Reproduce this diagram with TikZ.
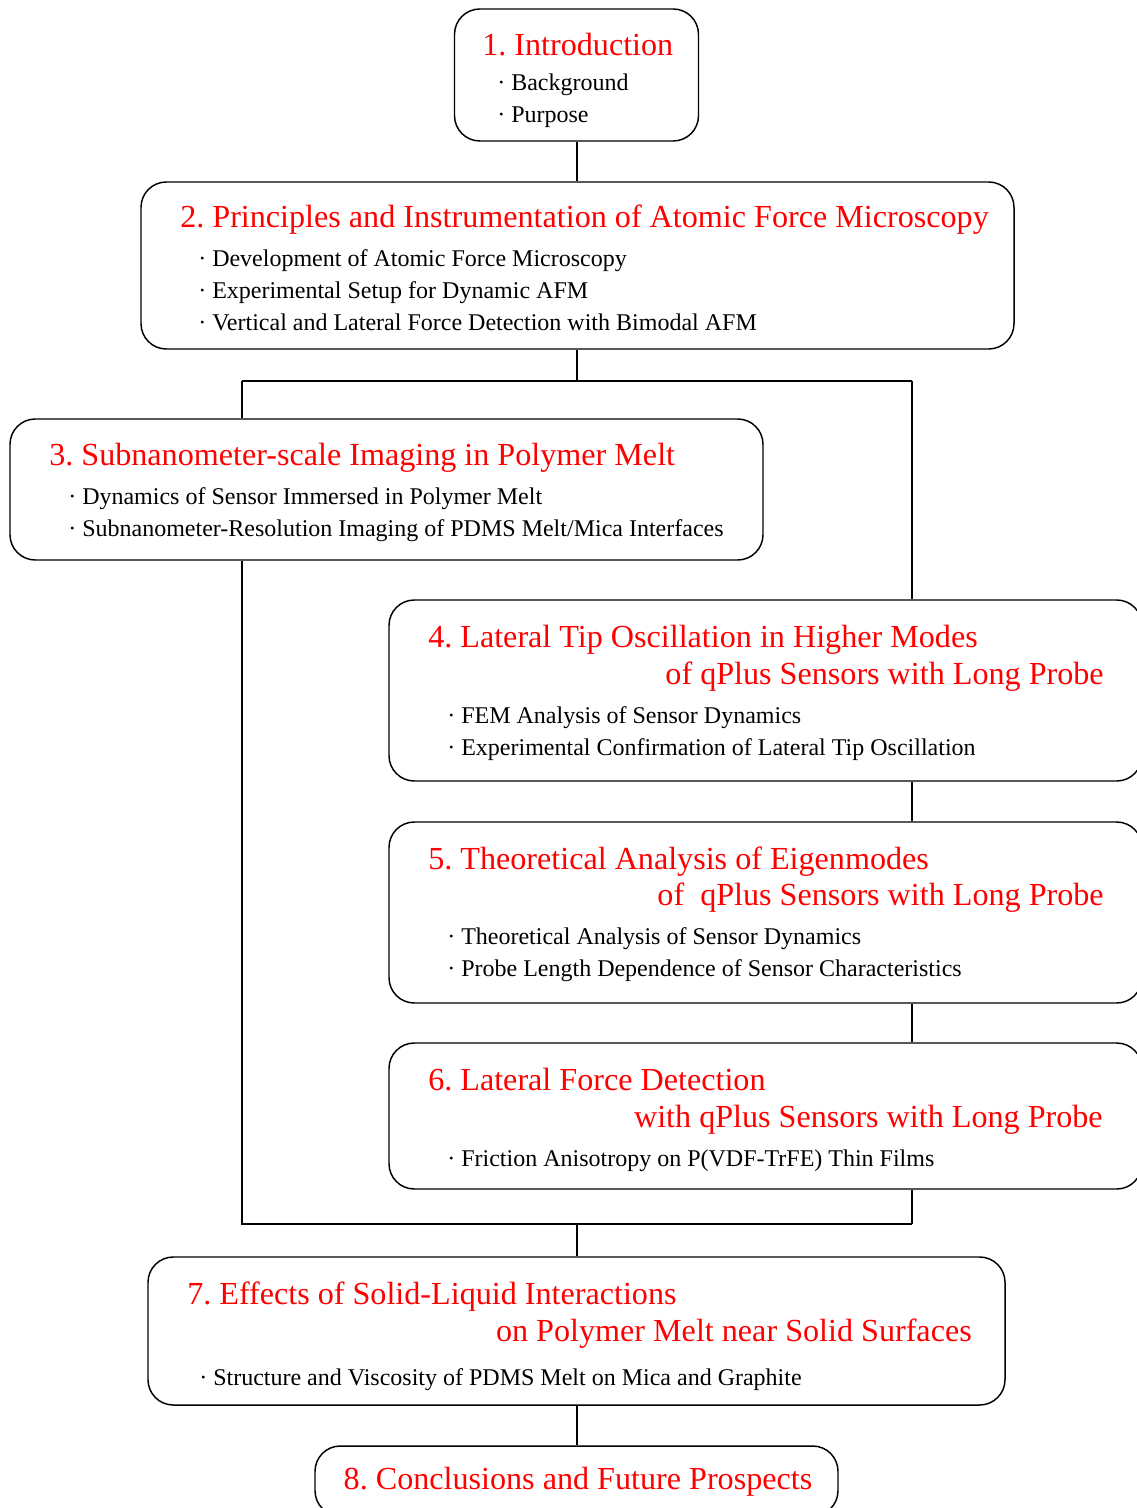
\documentclass[tikz,border=0pt]{standalone}
\usepackage{fontspec}
\setmainfont{Liberation Serif}
\usepackage{tikz}
\usetikzlibrary{calc}
\frenchspacing
\def\px#1{#1*0.75pt}
\tikzset{
  box/.style={draw, rounded corners=19pt, line width=1.1pt, inner sep=0pt},
  ttl/.style={text=red, font=\fontsize{24.1}{29}\selectfont, inner sep=0pt},
  itm/.style={font=\fontsize{18}{21}\selectfont, anchor=base west, inner sep=0pt},
  link/.style={line width=0.9pt}
}

\begin{document}
\begin{tikzpicture}[x=0.75pt, y=-0.75pt]
			%%%%% START %%%%%
			\clip (0, 0) rectangle (1137, 1508);
			\fill[white] (0, 0) rectangle (1137, 1508);
			
			% boxes
			\node[box, minimum width=\px{244}, minimum height=\px{132}] (intro) at (576.5, 75) {};
			\node[box, minimum width=\px{873}, minimum height=\px{167}] (afm) at (577.5, 265.5) {};
			\node[box, minimum width=\px{753}, minimum height=\px{141}] (melt) at (386.5, 489.5) {};
			\node[box, minimum width=\px{753}, minimum height=\px{181}] (lateral) at (765.5, 690.5) {};
			\node[box, minimum width=\px{753}, minimum height=\px{181}] (eigen) at (765.5, 912.5) {};
			\node[box, minimum width=\px{753}, minimum height=\px{146}] (friction) at (765.5, 1116) {};
			\node[box, minimum width=\px{857}, minimum height=\px{148}] (solid) at (576.5, 1331) {};
			\node[box, minimum width=\px{523}, minimum height=\px{70}] (concl) at (576.5, 1481) {};
			
			% 1
			\node[ttl, anchor=base west] (t1) at (482, 56) {1. Introduction};
			\node[itm] (i1a) at (497, 91) {· Background};
			\node[itm] (i1b) at (497, 123) {· Purpose};
			
			% 2
			\node[ttl, anchor=base west] (t2) at (180, 228) {2. Principles and Instrumentation of Atomic Force Microscopy};
			\node[itm] (i2a) at (198, 267) {· Development of Atomic Force Microscopy};
			\node[itm] (i2b) at (198, 299) {· Experimental Setup for Dynamic AFM};
			\node[itm] (i2c) at (198, 331) {· Vertical and Lateral Force Detection with Bimodal AFM};
			
			% 3
			\node[ttl, anchor=base west] (t3) at (49, 465) {3. Subnanometer-scale Imaging in Polymer Melt};
			\node[itm] (i3a) at (68, 504) {· Dynamics of Sensor Immersed in Polymer Melt};
			\node[itm] (i3b) at (68, 536) {· Subnanometer-Resolution Imaging of PDMS Melt/Mica Interfaces};
			
			% 4
			\node[ttl, anchor=base west] (t4) at (428, 647) {4. Lateral Tip Oscillation in Higher Modes};
			\node[ttl, anchor=base east] (t4b) at (1104, 684) {of qPlus Sensors with Long Probe};
			\node[itm] (i4a) at (447, 723) {· FEM Analysis of Sensor Dynamics};
			\node[itm] (i4b) at (447, 755) {· Experimental Confirmation of Lateral Tip Oscillation};
			
			% 5
			\node[ttl, anchor=base west] (t5) at (428, 869) {5. Theoretical Analysis of Eigenmodes};
			\node[ttl, anchor=base east] (t5b) at (1104, 905) {of\ \ qPlus Sensors with Long Probe};
			\node[itm] (i5a) at (447, 944) {· Theoretical Analysis of Sensor Dynamics};
			\node[itm] (i5b) at (447, 976) {· Probe Length Dependence of Sensor Characteristics};
			
			% 6
			\node[ttl, anchor=base west] (t6) at (428, 1090) {6. Lateral Force Detection};
			\node[ttl, anchor=base east] (t6b) at (1103, 1127) {with qPlus Sensors with Long Probe};
			\node[itm] (i6a) at (447, 1166) {· Friction Anisotropy on P(VDF-TrFE) Thin Films};
			
			% 7
			\node[ttl, anchor=base west] (t7) at (187, 1304) {7. Effects of Solid-Liquid Interactions};
			\node[ttl, anchor=base east] (t7b) at (972, 1341) {on Polymer Melt near Solid Surfaces};
			\node[itm] (i7a) at (199, 1385) {· Structure and Viscosity of PDMS Melt on Mica and Graphite};
			
			% 8
			\node[ttl, anchor=base] (t8) at (578, 1489) {8. Conclusions and Future Prospects};
			
			% connectors
			\coordinate (split) at (577, 381);
			\coordinate (jl) at (242, 381);
			\coordinate (jr) at (912, 381);
			\coordinate (ml) at (242, 1224);
			\coordinate (mr) at (912, 1224);
			\coordinate (merge) at (577, 1224);
			
			\draw[link] (intro.south -| split) -- (afm.north -| split);
			\draw[link] (afm.south -| split) -- (split);
			\draw[link] (jl) -- (jr);
			\draw[link] (jl) -- (melt.north -| jl);
			\draw[link] (melt.south -| jl) -- (ml) -- (mr);
			\draw[link] (jr) -- (lateral.north -| jr);
			\draw[link] (lateral.south -| jr) -- (eigen.north -| jr);
			\draw[link] (eigen.south -| jr) -- (friction.north -| jr);
			\draw[link] (friction.south -| jr) -- (mr);
			\draw[link] (merge) -- (solid.north -| merge);
			\draw[link] (solid.south -| merge) -- (concl.north -| merge);
			%%%%% END %%%%%
\end{tikzpicture}
\end{document}
